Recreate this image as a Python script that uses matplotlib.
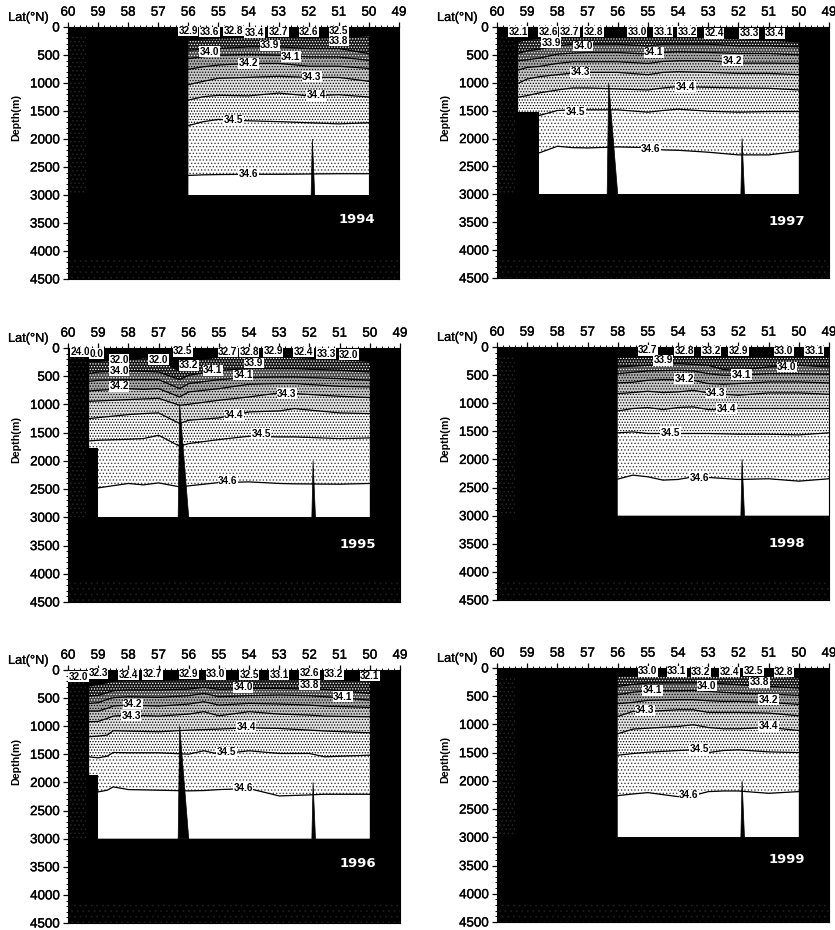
import matplotlib
matplotlib.use('Agg')
import matplotlib.pyplot as plt
import matplotlib.patheffects as pe
import numpy as np

plt.rcParams['font.family'] = ['Liberation Sans', 'DejaVu Sans']
plt.rcParams['hatch.linewidth'] = 0.6

tick_lats = [60, 59, 58, 57, 56, 55, 54, 53, 52, 51, 50, 49]
tick_depths = [0, 500, 1000, 1500, 2000, 2500, 3000, 3500, 4000, 4500]

# every section: order is 34.6, 34.5, 34.4, 34.3, 34.2, 34.1, 34.0, top of stipple
lat_1994 = [56, 55.5, 55, 54, 53, 52, 51, 50]
iso_1994 = [
    [2650, 2640, 2635, 2630, 2630, 2625, 2620, 2620],
    [1760, 1690, 1650, 1675, 1690, 1710, 1730, 1710],
    [1305, 1245, 1220, 1230, 1180, 1230, 1210, 1250],
    [1030, 970, 915, 900, 880, 900, 900, 970],
    [755, 710, 680, 650, 650, 700, 700, 740],
    [565, 530, 505, 490, 505, 535, 535, 595],
    [415, 400, 385, 355, 355, 385, 385, 475],
    [240, 225, 210, 200, 200, 210, 200, 170],
]
lab_1994 = [('32.9', 56.0, 70), ('33.6', 55.3, 90), ('32.8', 54.5, 70), ('33.4', 53.8, 100),
            ('32.7', 53.0, 90), ('32.6', 52.0, 90), ('32.5', 51.0, 70), ('33.8', 51.0, 250),
            ('33.9', 53.3, 330), ('34.0', 55.3, 440), ('34.1', 52.6, 530), ('34.2', 54.0, 650),
            ('34.3', 51.9, 890), ('34.4', 51.75, 1220), ('34.5', 54.5, 1660), ('34.6', 54.0, 2630)]

lat_1995 = [59.3, 59, 58, 57.5, 57, 56.3, 56, 55, 54, 53, 52.5, 51, 50]
iso_1995 = [
    [2478, 2478, 2400, 2425, 2390, 2460, 2442, 2384, 2372, 2400, 2407, 2413, 2400],
    [1646, 1634, 1617, 1605, 1546, 1740, 1693, 1622, 1563, 1575, 1575, 1605, 1593],
    [1251, 1233, 1180, 1162, 1150, 1339, 1280, 1239, 1133, 1115, 1074, 1150, 1162],
    [944, 938, 914, 903, 891, 1015, 997, 926, 867, 796, 808, 855, 879],
    [761, 749, 720, 732, 720, 867, 779, 720, 643, 631, 631, 679, 690],
    [590, 572, 560, 560, 560, 720, 631, 560, 525, 513, 513, 543, 572],
    [454, 425, 407, 413, 425, 560, 484, 395, 366, 366, 366, 395, 425],
    [248, 248, 218, 189, 207, 425, 248, 171, 171, 171, 180, 218, 248],
]
lab_1995 = [('24.0', 59.6, 70), ('0.0', 59.05, 100), ('32.0', 58.3, 205), ('32.0', 57.0, 205),
            ('32.5', 56.2, 55), ('33.2', 56.0, 305), ('34.1', 55.2, 395), ('32.7', 54.7, 70),
            ('32.8', 54.0, 70), ('32.9', 53.2, 55), ('33.9', 53.85, 265), ('34.1', 54.2, 480),
            ('32.4', 52.2, 70), ('33.3', 51.45, 100), ('32.0', 50.7, 120), ('34.0', 58.3, 405),
            ('34.2', 58.3, 680), ('34.3', 52.75, 810), ('34.4', 54.5, 1180), ('34.5', 53.6, 1515),
            ('34.6', 54.7, 2360)]

lat_1996 = [59.3, 59, 58.7, 58.5, 58, 57, 56, 55.5, 55, 54, 53, 52, 51.5, 50]
iso_1996 = [
    [2168, 2168, 2138, 2079, 2127, 2138, 2150, 2144, 2127, 2109, 2240, 2222, 2210, 2210],
    [1544, 1562, 1533, 1467, 1473, 1473, 1497, 1437, 1497, 1437, 1485, 1485, 1544, 1515],
    [1188, 1176, 1158, 1081, 1087, 1099, 1069, 1060, 1051, 1028, 1040, 1069, 1085, 1117],
    [920, 915, 861, 820, 802, 820, 784, 742, 814, 742, 784, 802, 820, 832],
    [730, 730, 683, 642, 624, 642, 606, 564, 624, 594, 606, 624, 642, 665],
    [594, 582, 523, 493, 475, 487, 457, 416, 475, 457, 445, 457, 475, 535],
    [463, 451, 404, 368, 356, 356, 339, 309, 345, 327, 327, 339, 345, 416],
    [297, 267, 238, 208, 196, 196, 190, 190, 190, 190, 190, 190, 190, 208],
]
lab_1996 = [('32.0', 59.65, 119), ('32.3', 59.0, 60), ('32.4', 58.0, 90), ('32.7', 57.2, 77),
            ('32.9', 56.0, 71), ('33.0', 55.1, 77), ('32.5', 54.0, 90), ('33.1', 53.0, 90),
            ('32.6', 52.0, 60), ('33.2', 51.2, 77), ('32.1', 50.0, 107), ('34.0', 54.2, 309),
            ('33.8', 52.0, 267), ('34.1', 50.9, 475), ('34.2', 57.85, 606), ('34.3', 57.9, 814),
            ('34.4', 54.1, 1010), ('34.5', 54.75, 1461), ('34.6', 54.2, 2097)]

lat_1997 = [59.3, 59, 58.6, 58, 57.5, 57, 56, 55, 54.5, 54, 53, 52, 51, 50]
iso_1997 = [
    [2257, 2257, 2257, 2138, 2162, 2168, 2150, 2162, 2204, 2210, 2245, 2293, 2293, 2228],
    [1600, 1600, 1586, 1497, 1485, 1485, 1485, 1527, 1497, 1473, 1509, 1527, 1515, 1515],
    [1259, 1230, 1182, 1129, 1093, 1093, 1111, 1129, 1093, 1069, 1081, 1093, 1099, 1129],
    [1010, 933, 891, 855, 826, 814, 814, 855, 814, 802, 814, 832, 832, 855],
    [772, 725, 707, 653, 624, 624, 624, 653, 618, 606, 606, 647, 647, 653],
    [606, 588, 558, 487, 469, 457, 457, 487, 457, 445, 457, 475, 475, 499],
    [475, 428, 398, 339, 309, 309, 309, 339, 309, 309, 309, 339, 339, 356],
    [279, 238, 220, 208, 202, 202, 202, 202, 202, 202, 202, 220, 245, 279],
]
lab_1997 = [('32.1', 59.3, 83), ('32.6', 58.3, 83), ('32.7', 57.6, 83), ('32.8', 56.8, 83),
            ('33.0', 55.35, 83), ('33.1', 54.5, 83), ('33.2', 53.7, 83), ('32.4', 52.8, 113),
            ('33.3', 51.65, 113), ('33.4', 50.8, 113), ('33.9', 58.2, 279), ('34.0', 57.15, 339),
            ('34.1', 54.8, 457), ('34.2', 52.2, 606), ('34.3', 57.25, 814), ('34.4', 53.75, 1069),
            ('34.5', 57.4, 1515), ('34.6', 54.9, 2180)]

lat_1998 = [56, 55.5, 55, 54.5, 54, 53.5, 53, 52.5, 52, 51, 50, 49]
iso_1998 = [
    [2350, 2279, 2309, 2368, 2356, 2309, 2320, 2338, 2356, 2344, 2386, 2344],
    [1527, 1510, 1539, 1539, 1539, 1539, 1539, 1545, 1551, 1551, 1563, 1527],
    [1137, 1095, 1077, 1113, 1077, 1066, 1113, 1113, 1095, 1095, 1095, 1095],
    [829, 811, 787, 811, 799, 770, 817, 841, 858, 817, 817, 841],
    [639, 627, 592, 580, 580, 592, 651, 663, 651, 622, 622, 639],
    [474, 450, 426, 420, 414, 426, 474, 503, 503, 474, 474, 486],
    [355, 340, 326, 310, 296, 310, 326, 402, 414, 355, 326, 355],
    [190, 190, 190, 190, 190, 190, 190, 190, 190, 190, 190, 190],
]
lab_1998 = [('32.7', 55.0, 60), ('32.8', 53.8, 70), ('33.2', 52.9, 70), ('32.9', 52.0, 70),
            ('33.0', 50.5, 70), ('33.1', 49.5, 70), ('33.9', 54.5, 237), ('34.0', 50.4, 355),
            ('34.1', 51.9, 491), ('34.2', 53.8, 562), ('34.3', 52.75, 817), ('34.4', 52.4, 1095),
            ('34.5', 54.25, 1527), ('34.6', 53.3, 2327)]

lat_1999 = [56, 55.5, 55, 54, 53.5, 53, 52.5, 52, 51, 50]
iso_1999 = [
    [2261, 2232, 2208, 2279, 2261, 2190, 2179, 2179, 2220, 2190],
    [1545, 1516, 1492, 1462, 1450, 1498, 1462, 1450, 1486, 1498],
    [1166, 1083, 1066, 1036, 1006, 1054, 1077, 1077, 1054, 1107],
    [858, 770, 770, 740, 740, 787, 787, 787, 799, 847],
    [633, 610, 574, 562, 562, 580, 592, 592, 610, 645],
    [474, 430, 403, 403, 397, 414, 432, 444, 462, 485],
    [326, 290, 266, 266, 266, 266, 280, 296, 326, 355],
    [148, 148, 148, 148, 148, 148, 148, 148, 148, 178],
]
lab_1999 = [('33.0', 55.0, 60), ('33.1', 54.05, 60), ('33.2', 53.25, 70), ('32.4', 52.3, 70),
            ('32.5', 51.5, 45), ('32.8', 50.5, 70), ('33.8', 51.3, 255), ('34.0', 53.05, 314),
            ('34.1', 54.85, 397), ('34.2', 51.0, 562), ('34.3', 55.1, 752), ('34.4', 51.0, 1036),
            ('34.5', 53.3, 1439), ('34.6', 53.65, 2250)]

# left/right limit of the section, and the sea floor step (lat edge, depth)
edges_1994 = (56, 50, None)
edges_1995 = (59.3, 50, (59.0, 1780))
edges_1996 = (59.3, 50, (59.0, 1870))
edges_1997 = (59.3, 50, (58.6, 1520))
edges_1998 = (56, 49, None)
edges_1999 = (56, 50, None)

# ridges: apex lat, apex depth, base left, base right
ridge_small = (51.88, 2000, 51.92, 51.8)
ridge_big = (56.3, 1000, 56.35, 56.0)

year_depth = {1994: 3445, 1995: 3490, 1996: 3445, 1997: 3485, 1998: 3490, 1999: 3400}
lat_label_1998 = ['60', '59', '58', '57', '58', '55', '54', '53', '52', '51', '50', '49']

# pixel box of each panel: left, right, top, bottom
boxes = {1994: (68, 399, 27, 279), 1995: (68, 400, 348, 602), 1996: (68, 400, 670, 923),
         1997: (497, 829, 27, 278), 1998: (497, 829, 347, 600), 1999: (497, 829, 668, 922)}

W, H = 835, 930
# band face and dot colour, deepest band first
band_faces = ['#ffffff', '#ffffff', '#e4e4e4', '#c8c8c8', '#a8a8a8', '#484848', '#141414']
band_dots = ['#404040', '#000000', '#000000', '#000000', '#000000', '#ffffff', '#ffffff']
band_hatch = ['.....', '......', '......', '......', '......', '......', '......']


def draw_section(ax, year, lats, iso, labels, edges, ridges):
    left, right, step = edges
    ax.set_facecolor('black')
    ax.set_xlim(60, 49)
    ax.set_ylim(4500, 0)
    x = np.array(lats)

    # faint specks of the scan in the black parts
    ax.fill_between([60, 59.4], 150, 3000, facecolor='black', edgecolor='#262626', hatch='....', lw=0, zorder=1)
    ax.fill_between([60, 49], 4150, 4500, facecolor='black', edgecolor='#1c1c1c', hatch='...', lw=0, zorder=1)

    # white below deepest isoline, then stippled bands going upward
    ax.fill_between(x, iso[0], 3000, facecolor='white', lw=0, zorder=2)
    for i in range(7):
        ax.fill_between(x, iso[i + 1], iso[i], facecolor=band_faces[i], edgecolor=band_dots[i],
                        hatch=band_hatch[i], lw=0, zorder=2)
    for i in range(7):
        ax.plot(x, iso[i], color='black', lw=0.9, zorder=3)

    # bottom topography
    if step is not None:
        ax.fill_between([left, step[0]], step[1], 3000, facecolor='black', lw=0, zorder=4)
    for r in ridges:
        ax.fill([r[2], r[0], r[3]], [3000, r[1], 3000], facecolor='black', edgecolor='black', lw=0.5, zorder=4)
    ax.fill_between([60, 49], 3000, 3010, facecolor='black', lw=0, zorder=4)

    for txt, la, de in labels:
        ax.text(la, de, txt, fontsize=7.2, fontweight='bold', ha='center', va='center', zorder=5,
                bbox=dict(facecolor='white', edgecolor='none', pad=0.3))
    ax.text(50.4, year_depth[year], str(year), color='white', fontsize=9.5, fontweight='bold',
            family='DejaVu Sans', ha='center', va='center', zorder=6)

    ax.xaxis.tick_top()
    ax.set_xticks(tick_lats)
    ax.set_xticks(np.arange(49, 60.01, 0.2), minor=True)
    ax.set_yticks(tick_depths)
    ax.set_yticks(np.arange(0, 4501, 100), minor=True)
    if year == 1998:
        ax.set_xticklabels(lat_label_1998)
    ax.tick_params(which='major', length=3.5, width=0.9, labelsize=9.6, pad=2.5)
    ax.tick_params(which='minor', length=1.8, width=0.7)
    for lab in ax.get_xticklabels() + ax.get_yticklabels():
        lab.set_path_effects([pe.withStroke(linewidth=0.25, foreground='black')])
    for s in ax.spines.values():
        s.set_color('black')

    ax.text(-0.12, 1.036, 'Lat(°N)', transform=ax.transAxes, fontsize=9.2, ha='center', va='center',
            path_effects=[pe.withStroke(linewidth=0.2, foreground='black')])
    ax.text(-0.155, 0.64, 'Depth(m)', transform=ax.transAxes, fontsize=7.7, fontweight='bold',
            rotation=90, ha='center', va='center')


fig = plt.figure(figsize=(W / 100, H / 100), dpi=100)
sections = [
    (1994, lat_1994, iso_1994, lab_1994, edges_1994, [ridge_small]),
    (1995, lat_1995, iso_1995, lab_1995, edges_1995, [ridge_big, ridge_small]),
    (1996, lat_1996, iso_1996, lab_1996, edges_1996, [ridge_big, ridge_small]),
    (1997, lat_1997, iso_1997, lab_1997, edges_1997, [ridge_big, ridge_small]),
    (1998, lat_1998, iso_1998, lab_1998, edges_1998, [ridge_small]),
    (1999, lat_1999, iso_1999, lab_1999, edges_1999, [ridge_small]),
]
for year, lats, iso, labels, edges, ridges in sections:
    l, r, t, b = boxes[year]
    ax = fig.add_axes([l / W, 1 - b / H, (r - l) / W, (b - t) / H])
    draw_section(ax, year, lats, iso, labels, edges, ridges)

fig.savefig('out.png', dpi=100)
